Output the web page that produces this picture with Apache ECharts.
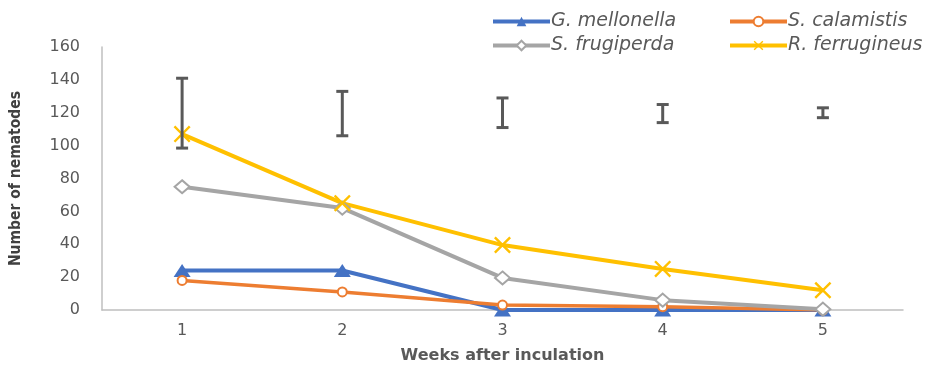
<!DOCTYPE html>
<html><head><meta charset="utf-8">
<script src="https://cdn.jsdelivr.net/npm/echarts@6/dist/echarts.min.js"></script>
<style>html,body{margin:0;padding:0;background:#fff}#c{width:938px;height:366px}</style>
</head><body><div id="c"></div>
<script>
const categories = ['1','2','3','4','5'];
const gMellonella = [24, 24, 0, 0, 0];
const sCalamistis = [18, 11, 3, 2, 0];
const sFrugiperda = [75, 62, 19.5, 6, 0.5];
const rFerrugineus = [107, 65, 39.5, 25, 12];
const errLow = [98.5, 106, 111, 114, 117];
const errHigh = [141, 133, 129, 125, 123];
const seriesNames = ['G. mellonella','S. calamistis','S. frugiperda','R. ferrugineus'];

const xPath = 'path://M0,1 L1,0 L5,4 L9,0 L10,1 L6,5 L10,9 L9,10 L5,6 L1,10 L0,9 L4,5 Z';
const font = "'DejaVu Sans', sans-serif";
const chart = echarts.init(document.getElementById('c'));
function leg(name, left, top) {
  return {data:[name], left:left, top:top, itemWidth:57, itemHeight:12, itemGap:0,
    lineStyle:{width:4},
    textStyle:{fontStyle:'italic', fontSize:19, color:'#595959', fontFamily:font, padding:[0,0,0,-4]}};
}
chart.setOption({
  animation:false,
  legend:[leg(seriesNames[0],486,7), leg(seriesNames[1],723,7), leg(seriesNames[2],486,31), leg(seriesNames[3],723,31)],
  grid:{left:102, right:35, top:47, bottom:56, containLabel:false, outerBoundsMode:'none'},
  xAxis:{type:'category', data:categories, boundaryGap:true,
    axisLine:{lineStyle:{color:'#BFBFBF', width:1.5}}, axisTick:{show:false},
    axisLabel:{fontSize:16, color:'#595959', fontFamily:font, margin:13},
    name:'Weeks after inculation', nameLocation:'middle', nameGap:38,
    nameTextStyle:{fontSize:16, fontWeight:'bold', color:'#595959', fontFamily:font}},
  yAxis:{type:'value', min:0, max:160, interval:20,
    axisLine:{show:true, lineStyle:{color:'#BFBFBF', width:1.5}}, axisTick:{show:false}, splitLine:{show:false},
    axisLabel:{fontSize:16, color:'#595959', fontFamily:font, margin:22},
    name:'Number of nematodes', nameLocation:'middle', nameGap:78,
    nameTextStyle:{fontSize:15.5, fontWeight:'bold', color:'#404040', fontFamily:"'DejaVu Sans Condensed', 'DejaVu Sans', sans-serif"}},
  series:[
    {name:seriesNames[0], type:'line', data:gMellonella, color:'#4472C4', symbol:'triangle', symbolSize:[17,13],
      lineStyle:{width:4}, itemStyle:{color:'#4472C4'}},
    {name:seriesNames[1], type:'line', data:sCalamistis, color:'#ED7D31', symbol:'emptyCircle', symbolSize:9,
      lineStyle:{width:3.5}, itemStyle:{color:'#ED7D31', borderWidth:1.5}},
    {name:seriesNames[2], type:'line', data:sFrugiperda, color:'#A5A5A5', symbol:'emptyDiamond', symbolSize:[15,13],
      lineStyle:{width:4}, itemStyle:{color:'#A5A5A5', borderWidth:2}},
    {name:seriesNames[3], type:'line', data:rFerrugineus, color:'#FFC000', symbol:xPath, symbolSize:17,
      lineStyle:{width:4}, itemStyle:{color:'#FFC000'}},
    {type:'custom', name:'err', silent:true, z:5,
      data: categories.map((c,i)=>[i, errLow[i], errHigh[i]]),
      renderItem:function(params, api){
        const lo = api.coord([api.value(0), api.value(1)]);
        const hi = api.coord([api.value(0), api.value(2)]);
        const hw = 6;
        const st = {stroke:'#595959', lineWidth:3};
        return {type:'group', children:[
          {type:'line', shape:{x1:lo[0], y1:lo[1], x2:hi[0], y2:hi[1]}, style:st},
          {type:'line', shape:{x1:lo[0]-hw, y1:lo[1], x2:lo[0]+hw, y2:lo[1]}, style:st},
          {type:'line', shape:{x1:hi[0]-hw, y1:hi[1], x2:hi[0]+hw, y2:hi[1]}, style:st}
        ]};
      }}
  ]
});
</script></body></html>
